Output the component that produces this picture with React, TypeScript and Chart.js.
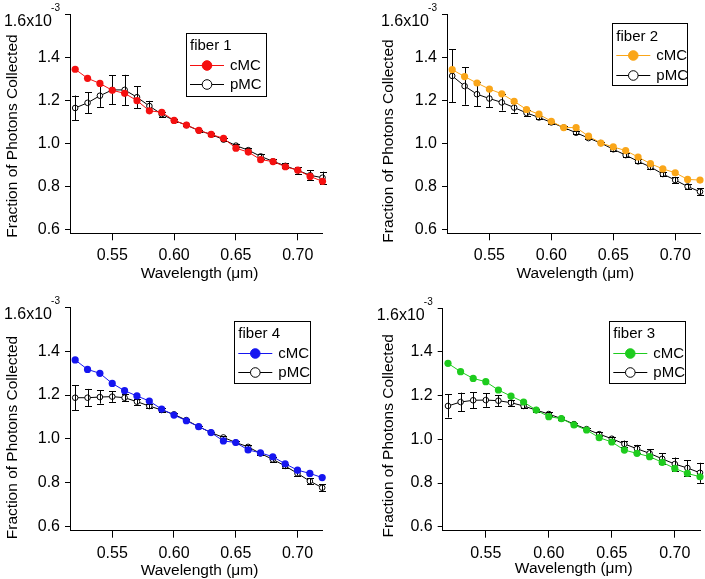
import React, { useEffect, useRef } from 'react';
import { Chart, registerables } from 'chart.js';

Chart.register(...registerables);

// Wavelength (µm) sample points shared by all four panels
const WAVELENGTHS = [0.52, 0.53, 0.54, 0.55, 0.56, 0.57, 0.58, 0.59, 0.6, 0.61, 0.62, 0.63, 0.64, 0.65, 0.66, 0.67, 0.68, 0.69, 0.7, 0.71, 0.72];
const X_TICKS = [0.55, 0.6, 0.65, 0.7];
const Y_TICKS = [0.6, 0.8, 1.0, 1.2, 1.4, 1.6];

// Fraction of photons collected, in units of 1e-3
const FIBER1_CMC = [1.346, 1.304, 1.28, 1.248, 1.234, 1.2, 1.153, 1.146, 1.108, 1.087, 1.062, 1.043, 1.025, 0.979, 0.961, 0.926, 0.917, 0.893, 0.877, 0.848, 0.825];
const FIBER1_PMC = [1.166, 1.19, 1.223, 1.25, 1.25, 1.216, 1.175, 1.137, 1.108, 1.086, 1.061, 1.043, 1.019, 0.991, 0.97, 0.941, 0.918, 0.897, 0.876, 0.853, 0.842];
const FIBER1_PMC_ERR = [0.058, 0.048, 0.052, 0.067, 0.07, 0.051, 0.024, 0.012, 0.006, 0.005, 0.005, 0.006, 0.007, 0.008, 0.008, 0.011, 0.01, 0.012, 0.016, 0.024, 0.028];

const FIBER2_CMC = [1.344, 1.312, 1.282, 1.254, 1.232, 1.197, 1.159, 1.137, 1.104, 1.075, 1.075, 1.035, 1.003, 0.985, 0.968, 0.938, 0.907, 0.883, 0.865, 0.834, 0.831];
const FIBER2_PMC = [1.315, 1.268, 1.23, 1.21, 1.192, 1.168, 1.143, 1.122, 1.099, 1.075, 1.051, 1.026, 1.003, 0.974, 0.947, 0.918, 0.892, 0.859, 0.831, 0.801, 0.777];
const FIBER2_PMC_ERR = [0.123, 0.087, 0.055, 0.04, 0.038, 0.023, 0.012, 0.008, 0.006, 0.005, 0.007, 0.006, 0.006, 0.007, 0.009, 0.01, 0.01, 0.01, 0.012, 0.013, 0.015];

const FIBER4_CMC = [1.36, 1.317, 1.299, 1.253, 1.22, 1.196, 1.173, 1.136, 1.109, 1.083, 1.056, 1.029, 0.991, 0.984, 0.95, 0.937, 0.919, 0.887, 0.858, 0.843, 0.824];
const FIBER4_PMC = [1.188, 1.188, 1.191, 1.193, 1.188, 1.17, 1.15, 1.132, 1.112, 1.086, 1.056, 1.029, 1.007, 0.984, 0.964, 0.934, 0.907, 0.877, 0.843, 0.808, 0.778];
const FIBER4_PMC_ERR = [0.058, 0.04, 0.03, 0.024, 0.017, 0.013, 0.01, 0.008, 0.006, 0.005, 0.005, 0.005, 0.006, 0.006, 0.008, 0.008, 0.01, 0.01, 0.01, 0.012, 0.015];

const FIBER3_CMC = [1.348, 1.31, 1.279, 1.264, 1.226, 1.198, 1.171, 1.134, 1.104, 1.095, 1.066, 1.043, 1.008, 0.988, 0.951, 0.936, 0.921, 0.895, 0.867, 0.844, 0.829];
const FIBER3_PMC = [1.153, 1.171, 1.179, 1.18, 1.177, 1.168, 1.153, 1.134, 1.116, 1.095, 1.07, 1.047, 1.024, 1.003, 0.979, 0.957, 0.936, 0.911, 0.887, 0.869, 0.847];
const FIBER3_PMC_ERR = [0.053, 0.043, 0.037, 0.031, 0.025, 0.014, 0.01, 0.007, 0.008, 0.006, 0.006, 0.006, 0.008, 0.01, 0.015, 0.018, 0.02, 0.025, 0.03, 0.036, 0.046];

const X_MIN = 0.5158;
const X_MAX = 0.72;
const Y_MAX = 1.6;

const FONT = '"Liberation Sans", Arial, sans-serif';

type Panel = {
  title: string;
  color: string;
  cmc: number[];
  pmc: number[];
  err: number[];
  box: { left: number; top: number; w: number; h: number };
  plot: { left: number; right: number; top: number; bottom: number };
  yMin: number;
  legend: { left: number; top: number; w: number; h: number };
  yTitle: { x: number; y: number };
  xTitle: { x: number; y: number };
};

const PANELS: Panel[] = [
  {
    title: 'fiber 1', color: '#F51010', cmc: FIBER1_CMC, pmc: FIBER1_PMC, err: FIBER1_PMC_ERR,
    box: { left: 0, top: 0, w: 352, h: 290 },
    plot: { left: 70, right: 322.5, top: 10.7, bottom: 233.3 },
    yMin: 0.5836,
    legend: { left: 186, top: 32.5, w: 80, h: 63 },
    yTitle: { x: 16.7, y: 136 },
    xTitle: { x: 199.5, y: 278 },
  },
  {
    title: 'fiber 2', color: '#FAA619', cmc: FIBER2_CMC, pmc: FIBER2_PMC, err: FIBER2_PMC_ERR,
    box: { left: 352, top: 0, w: 353, h: 290 },
    plot: { left: 95, right: 349.8, top: 10.7, bottom: 233.3 },
    yMin: 0.5836,
    legend: { left: 260.3, top: 23.3, w: 75.4, h: 62.4 },
    yTitle: { x: 40.7, y: 141 },
    xTitle: { x: 223.3, y: 278 },
  },
  {
    title: 'fiber 4', color: '#1515F0', cmc: FIBER4_CMC, pmc: FIBER4_PMC, err: FIBER4_PMC_ERR,
    box: { left: 0, top: 290, w: 352, h: 289 },
    plot: { left: 70, right: 322.2, top: 17.3, bottom: 240.7 },
    yMin: 0.582,
    legend: { left: 234.3, top: 30.7, w: 76.4, h: 62 },
    yTitle: { x: 17.3, y: 147.5 },
    xTitle: { x: 199.5, y: 285 },
  },
  {
    title: 'fiber 3', color: '#1ECC1E', cmc: FIBER3_CMC, pmc: FIBER3_PMC, err: FIBER3_PMC_ERR,
    box: { left: 352, top: 290, w: 353, h: 289 },
    plot: { left: 90.7, right: 348, top: 18.3, bottom: 240.7 },
    yMin: 0.582,
    legend: { left: 257.3, top: 30.7, w: 76, h: 62 },
    yTitle: { x: 40.7, y: 145.8 },
    xTitle: { x: 221.7, y: 283 },
  },
];

function makeOverlay(p: Panel) {
  return {
    id: 'overlay',
    afterDatasetDraw(chart: any, args: any) {
      if (args.index !== 1) return;
      const ctx = chart.ctx;
      const xs = chart.scales.x;
      const ys = chart.scales.y;
      ctx.save();
      ctx.strokeStyle = '#000';
      ctx.lineWidth = 1;
      ctx.beginPath();
      for (let i = 0; i < WAVELENGTHS.length; i++) {
        const x = Math.round(xs.getPixelForValue(WAVELENGTHS[i])) + 0.5;
        const y1 = ys.getPixelForValue(p.pmc[i] + p.err[i]);
        const y2 = ys.getPixelForValue(p.pmc[i] - p.err[i]);
        ctx.moveTo(x, y1);
        ctx.lineTo(x, y2);
        ctx.moveTo(x - 3.5, Math.round(y1) + 0.5);
        ctx.lineTo(x + 3.5, Math.round(y1) + 0.5);
        ctx.moveTo(x - 3.5, Math.round(y2) + 0.5);
        ctx.lineTo(x + 3.5, Math.round(y2) + 0.5);
      }
      ctx.stroke();
      ctx.restore();
    },
    afterDraw(chart: any) {
      const ctx = chart.ctx;
      const ys = chart.scales.y;
      const area = chart.chartArea;
      ctx.save();
      ctx.fillStyle = '#000';
      // top tick label "1.6x10^-3"
      const yTop = ys.getPixelForValue(Y_TICKS[Y_TICKS.length - 1]);
      ctx.font = `16px ${FONT}`;
      ctx.textAlign = 'right';
      ctx.textBaseline = 'alphabetic';
      ctx.fillText('1.6x10', area.left - 18, yTop + 11.5);
      ctx.font = `10px ${FONT}`;
      ctx.textAlign = 'right';
      ctx.fillText('-3', area.left - 10, yTop - 3.5);

      // axis titles
      ctx.font = `15.5px ${FONT}`;
      ctx.textAlign = 'center';
      ctx.textBaseline = 'alphabetic';
      ctx.fillText('Wavelength (\u03bcm)', p.xTitle.x, p.xTitle.y);
      ctx.save();
      ctx.translate(p.yTitle.x, p.yTitle.y);
      ctx.rotate(-Math.PI / 2);
      ctx.fillText('Fraction of Photons Collected', 0, 0);
      ctx.restore();

      // legend box
      const L = p.legend;
      const lx = Math.round(L.left) + 0.5;
      const ly = Math.round(L.top) + 0.5;
      ctx.fillStyle = '#fff';
      ctx.fillRect(lx, ly, Math.round(L.w), Math.round(L.h));
      ctx.strokeStyle = '#000';
      ctx.lineWidth = 1;
      ctx.strokeRect(lx, ly, Math.round(L.w), Math.round(L.h));
      ctx.fillStyle = '#000';
      ctx.font = `15px ${FONT}`;
      ctx.textAlign = 'left';
      ctx.textBaseline = 'alphabetic';
      ctx.fillText(p.title, L.left + 4, L.top + 17.5);
      const rows = [
        { y: L.top + 32, line: p.color, fill: p.color, stroke: p.color, label: 'cMC' },
        { y: L.top + 51.5, line: '#000', fill: '#fff', stroke: '#000', label: 'pMC' },
      ];
      for (const r of rows) {
        const yy = Math.round(r.y) + 0.5;
        ctx.strokeStyle = r.line;
        ctx.beginPath();
        ctx.moveTo(L.left + 4, yy);
        ctx.lineTo(L.left + 38, yy);
        ctx.stroke();
        ctx.beginPath();
        ctx.arc(L.left + 21, yy, 4.8, 0, Math.PI * 2);
        ctx.fillStyle = r.fill;
        ctx.fill();
        ctx.strokeStyle = r.stroke;
        ctx.stroke();
        ctx.fillStyle = '#000';
        ctx.textBaseline = 'middle';
        ctx.fillText(r.label, L.left + 44, yy + 0.5);
        ctx.textBaseline = 'alphabetic';
      }
      ctx.restore();
    },
  };
}

function PanelChart({ p }: { p: Panel }) {
  const ref = useRef<HTMLCanvasElement | null>(null);
  useEffect(() => {
    if (!ref.current) return;
    const { w, h } = p.box;
    const chart = new Chart(ref.current, {
      type: 'line',
      data: {
        datasets: [
          {
            label: 'cMC',
            data: WAVELENGTHS.map((x, i) => ({ x, y: p.cmc[i] })),
            borderColor: p.color,
            backgroundColor: p.color,
            borderWidth: 1,
            pointRadius: 3.6,
            pointBackgroundColor: p.color,
            pointBorderColor: p.color,
            pointBorderWidth: 0,
            tension: 0,
            clip: false,
          } as any,
          {
            label: 'pMC',
            data: WAVELENGTHS.map((x, i) => ({ x, y: p.pmc[i] })),
            borderColor: '#000',
            backgroundColor: '#fff',
            borderWidth: 1,
            pointRadius: 2.8,
            pointBackgroundColor: '#fff',
            pointBorderColor: '#000',
            pointBorderWidth: 1,
            tension: 0,
            clip: false,
          } as any,
        ],
      },
      options: {
        responsive: false,
        animation: false,
        devicePixelRatio: 1,
        events: [],
        layout: { padding: { top: p.plot.top, right: w - p.plot.right, left: 0, bottom: 0 } },
        plugins: { legend: { display: false }, tooltip: { enabled: false }, title: { display: false } },
        scales: {
          x: {
            type: 'linear',
            min: X_MIN,
            max: X_MAX,
            afterBuildTicks: (s: any) => { s.ticks = X_TICKS.map((v) => ({ value: v })); },
            afterFit: (s: any) => { s.height = h - p.plot.bottom; },
            grid: { display: true, drawOnChartArea: false, drawTicks: true, tickLength: 7, color: '#000', lineWidth: 1 },
            border: { display: true, color: '#000', width: 1 },
            ticks: {
              color: '#000', padding: 6, maxRotation: 0, autoSkip: false,
              font: { family: FONT, size: 16 },
              callback: (v: any) => Number(v).toFixed(2),
            },
          },
          y: {
            type: 'linear',
            min: p.yMin,
            max: Y_MAX,
            afterBuildTicks: (s: any) => { s.ticks = Y_TICKS.map((v) => ({ value: v })); },
            afterFit: (s: any) => { s.width = p.plot.left; },
            grid: { display: true, drawOnChartArea: false, drawTicks: true, tickLength: 5, color: '#000', lineWidth: 1 },
            border: { display: true, color: '#000', width: 1 },
            ticks: {
              color: '#000', padding: 5, autoSkip: false,
              font: { family: FONT, size: 16 },
              callback: (v: any) => (Math.abs(Number(v) - Y_MAX) < 1e-9 ? '' : Number(v).toFixed(1)),
            },
          },
        },
      } as any,
      plugins: [makeOverlay(p)],
    });
    return () => chart.destroy();
  }, [p]);
  return (
    <canvas
      ref={ref}
      width={p.box.w}
      height={p.box.h}
      style={{ position: 'absolute', left: p.box.left, top: p.box.top, width: p.box.w, height: p.box.h }}
    />
  );
}

export default function App() {
  return (
    <div style={{ position: 'absolute', left: 0, top: 0, width: 705, height: 579, background: '#fff', overflow: 'hidden' }}>
      {PANELS.map((p) => (
        <PanelChart key={p.title} p={p} />
      ))}
    </div>
  );
}
